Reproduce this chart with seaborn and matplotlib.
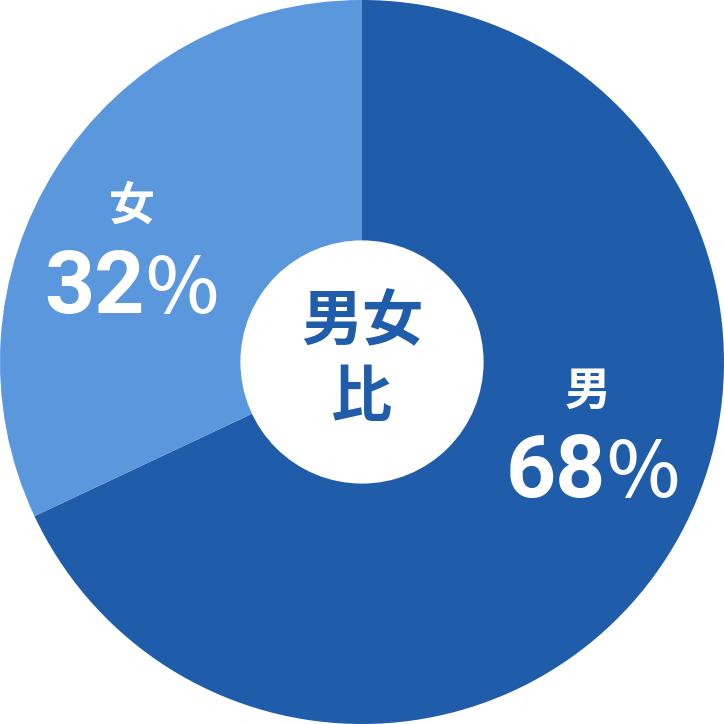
import numpy as np
import seaborn as sns
import matplotlib.pyplot as plt
from matplotlib.patches import Circle

# Données
labels = ['男', '女']
values = [68, 32]
colors = ['#1f5ca9', '#5b97dc']
center_title = ['男女', '比']

sns.set_theme(style='white')
plt.rcParams['font.family'] = ['Noto Sans CJK JP', 'DejaVu Sans']

fig = plt.figure(figsize=(7.24, 7.24), dpi=100)
ax = fig.add_axes([0, 0, 1, 1])

wedges, _ = ax.pie(values, colors=colors, startangle=90, counterclock=False,
                   radius=1.0, wedgeprops=dict(linewidth=0))
ax.set_xlim(-1, 1)
ax.set_ylim(-1, 1)
ax.set_aspect('equal')
ax.axis('off')

# trou central
ax.add_patch(Circle((0, 0), 0.334, color='white', zorder=3))
for txt, y in zip(center_title, [0.11, -0.1]):
    ax.text(0, y, txt, ha='center', va='center', fontsize=44,
            fontweight='bold', color=colors[0], zorder=4)

# étiquettes : (x du nom, y du nom, x de séparation chiffres/%, ligne de base)
label_pos = [(0.622, -0.083, 0.675, -0.373), (-0.635, 0.428, -0.6, 0.135)]
for lab, val, (xl, yl, xs, yb) in zip(labels, values, label_pos):
    ax.text(xl, yl, lab, ha='center', va='center', fontsize=33,
            fontweight='bold', color='white')
    ax.text(xs, yb, f'{val}', ha='right', va='baseline', fontsize=63,
            fontweight='bold', color='white', family=['Roboto', 'DejaVu Sans'])
    ax.text(xs, yb, '%', ha='left', va='baseline', fontsize=56,
            fontweight='medium', color='white')

fig.savefig('out.png', dpi=100, facecolor='white')
